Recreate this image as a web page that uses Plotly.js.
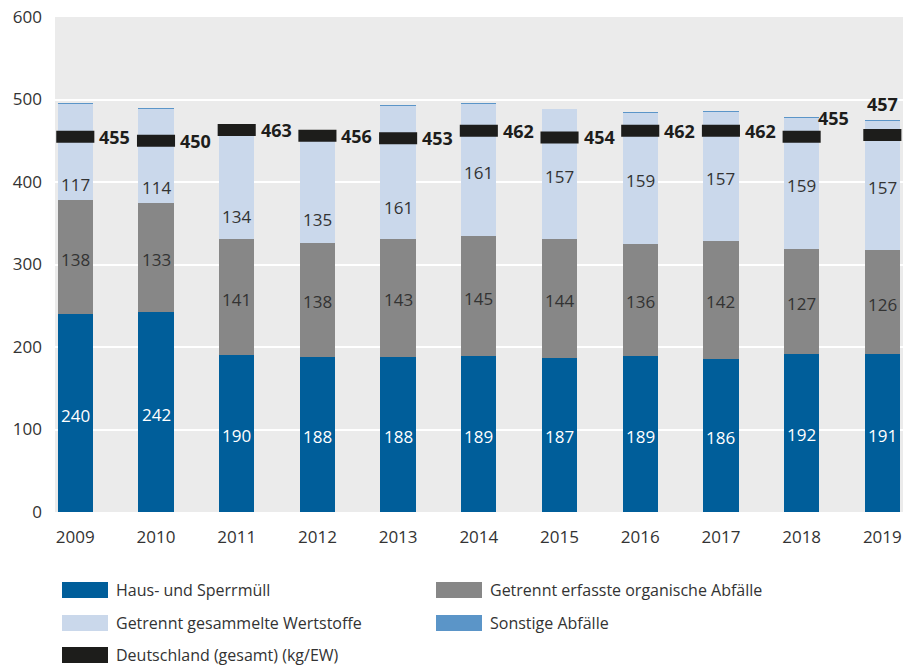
<!DOCTYPE html>
<html>
<head>
<meta charset="utf-8">
<script src="https://cdn.plot.ly/plotly-3.0.1.min.js"></script>
<style>
  html, body { margin: 0; padding: 0; background: #ffffff; }
  #chart { width: 903px; height: 665px; }
</style>
</head>
<body>
<div id="chart"></div>
<script>
// ---------------- DATA ----------------
const years = ["2009","2010","2011","2012","2013","2014","2015","2016","2017","2018","2019"];
const hausSperrmuell = [240, 242, 190, 188, 188, 189, 187, 189, 186, 192, 191];
const organisch      = [138, 133, 141, 138, 143, 145, 144, 136, 142, 127, 126];
const wertstoffe     = [117, 114, 134, 135, 161, 161, 157, 159, 157, 159, 157];
const sonstige       = [1, 1, 1, 1, 1, 1, 1, 1, 1, 1, 1];
const deutschland    = [455, 450, 463, 456, 453, 462, 454, 462, 462, 455, 457];
const seriesNames = [
  "Haus- und Sperrmüll",
  "Getrennt erfasste organische Abfälle",
  "Getrennt gesammelte Wertstoffe",
  "Sonstige Abfälle",
  "Deutschland (gesamt) (kg/EW)"
];

// ---------------- STYLE ----------------
const colHaus = "#005e9a";
const colOrg = "#878787";
const colWert = "#cad8eb";
const colSonst = "#5b95c8";
const colDE = "#1d1d1b";
const textDark = "#333333";
const FONT = "Open Sans, Noto Sans, sans-serif";

const L = 55, T = 17, R = 0, B = 153, W = 903, H = 665;
const plotW = W - L - R, plotH = H - T - B;
const px2x = p => (p - L) / plotW;
const px2y = p => (T + plotH - p) / plotH;

const barW = 0.4375;

const traces = [];
const stacks = [
  {name: seriesNames[0], vals: hausSperrmuell, color: colHaus},
  {name: seriesNames[1], vals: organisch, color: colOrg},
  {name: seriesNames[2], vals: wertstoffe, color: colWert},
  {name: seriesNames[3], vals: sonstige, color: colSonst}
];
stacks.forEach(s => {
  traces.push({
    type: "bar", x: years, y: s.vals, name: s.name,
    marker: {color: s.color, line: {width: 0}},
    width: barW, showlegend: false, hoverinfo: "skip"
  });
});
traces.push({
  type: "scatter", mode: "markers", x: years, y: deutschland, name: seriesNames[4],
  marker: {symbol: "line-ew", size: 27.2, color: colDE, line: {color: colDE, width: 12}},
  showlegend: false, hoverinfo: "skip", cliponaxis: false
});

// ---------------- ANNOTATIONS ----------------
const annotations = [];
// per-bar vertical shift (px) of the Wertstoffe labels as placed in the original
const wertLabelShift = [-31, -30, -31, -30, -33, 0, 0, 0, 0, 0, 0];
years.forEach((yr, i) => {
  const b1 = hausSperrmuell[i], b2 = b1 + organisch[i];
  annotations.push({xref: "x", yref: "y", x: i, y: b1 / 2, text: String(hausSperrmuell[i]), showarrow: false,
    yanchor: "middle", yshift: -2, font: {family: FONT, size: 17, color: "#ffffff"}});
  annotations.push({xref: "x", yref: "y", x: i, y: b1 + organisch[i] / 2, text: String(organisch[i]), showarrow: false,
    yanchor: "middle", yshift: -2, font: {family: FONT, size: 17, color: textDark}});
  annotations.push({xref: "x", yref: "y", x: i, y: b2 + wertstoffe[i] / 2, text: String(wertstoffe[i]), showarrow: false,
    yanchor: "middle", yshift: -2 + wertLabelShift[i], font: {family: FONT, size: 17, color: textDark}});
  // Deutschland label
  const a = {xref: "x", yref: "y", x: i, y: deutschland[i], text: "<b>" + deutschland[i] + "</b>", showarrow: false,
    xanchor: "left", yanchor: "middle", xshift: 22, yshift: 0,
    font: {family: FONT, size: 18, color: colDE}};
  if (yr === "2018") { a.xshift = 14; a.yshift = 19; }
  if (yr === "2019") { a.xanchor = "center"; a.xshift = 0; a.yshift = 31; }
  annotations.push(a);
});

// ---------------- LEGEND (custom) ----------------
const shapes = [];
const legendItems = [
  {name: seriesNames[0], color: colHaus, col: 0, row: 0},
  {name: seriesNames[1], color: colOrg, col: 1, row: 0},
  {name: seriesNames[2], color: colWert, col: 0, row: 1},
  {name: seriesNames[3], color: colSonst, col: 1, row: 1},
  {name: seriesNames[4], color: colDE, col: 0, row: 2}
];
const colX = [62, 436], rowY = [590, 623, 655];
legendItems.forEach(it => {
  const x0 = colX[it.col], yc = rowY[it.row];
  shapes.push({type: "rect", xref: "paper", yref: "paper",
    x0: px2x(x0), x1: px2x(x0 + 46), y0: px2y(yc + 8), y1: px2y(yc - 8),
    fillcolor: it.color, line: {width: 0}, layer: "above"});
  annotations.push({xref: "paper", yref: "paper", x: px2x(x0 + 52), y: px2y(yc),
    xanchor: "left", yanchor: "middle", text: it.name, showarrow: false,
    font: {family: FONT, size: 16, color: textDark}});
});

const layout = {
  width: W, height: H,
  margin: {l: L, r: R, t: T, b: B, pad: 0},
  paper_bgcolor: "#ffffff",
  plot_bgcolor: "#ebebeb",
  barmode: "stack",
  bargap: 0,
  showlegend: false,
  font: {family: FONT, size: 17, color: textDark},
  xaxis: {
    type: "category", range: [-0.2516, 10.256], fixedrange: true,
    showgrid: false, zeroline: false, showline: false, ticks: "",
    ticklabelstandoff: 13,
    tickfont: {family: FONT, size: 17, color: textDark}
  },
  yaxis: {
    range: [0, 600], tickvals: [0, 100, 200, 300, 400, 500, 600],
    showgrid: true, gridcolor: "#ffffff", gridwidth: 2,
    zeroline: false, showline: false, ticks: "",
    ticklabelstandoff: 12,
    tickfont: {family: FONT, size: 17, color: textDark}
  },
  annotations: annotations,
  shapes: shapes
};

Plotly.newPlot("chart", traces, layout, {displayModeBar: false, staticPlot: true});
</script>
</body>
</html>
